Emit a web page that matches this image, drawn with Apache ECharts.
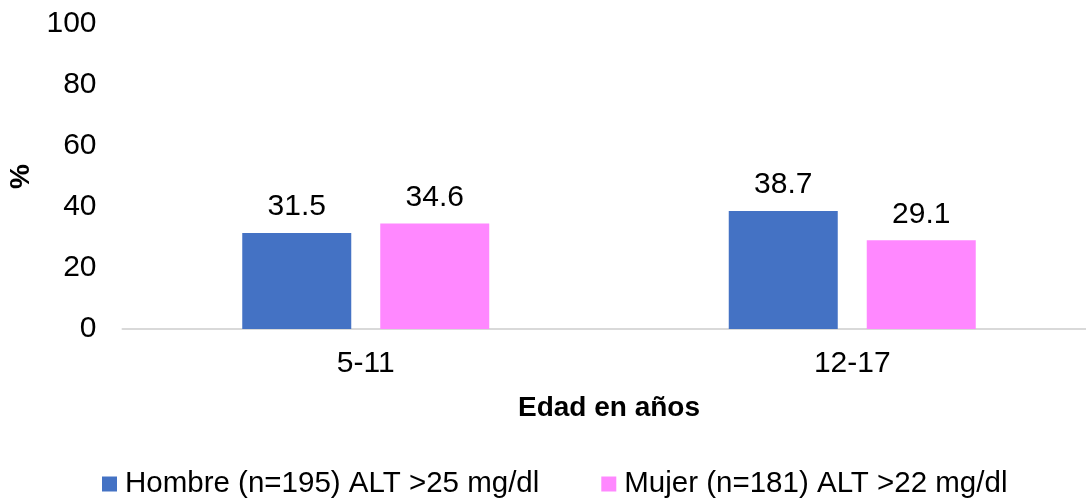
<!DOCTYPE html>
<html>
<head>
<meta charset="utf-8">
<script src="https://cdn.jsdelivr.net/npm/echarts@6/dist/echarts.min.js"></script>
<style>
  html, body { margin: 0; padding: 0; background: #ffffff; }
  #chart { width: 1086px; height: 498px; }
</style>
</head>
<body>
<div id="chart"></div>
<script>
const categories = ['5-11', '12-17'];
const hombreValues = [31.5, 38.7];
const mujerValues = [34.6, 29.1];
const seriesNames = ['Hombre (n=195) ALT >25 mg/dl', 'Mujer (n=181) ALT >22 mg/dl'];

const chart = echarts.init(document.getElementById('chart'));
const font = 'Liberation Sans, Arial, sans-serif';

const option = {
    animation: false,
    textStyle: { fontFamily: font },
    // el área del gráfico sale un poco por la derecha, como en el original
    grid: { left: 122.5, top: 24, width: 973, height: 305, outerBoundsMode: 'none' },
    legend: {
        top: 464,
        left: 97,
        itemWidth: 15,
        itemHeight: 15,
        itemGap: 62,
        icon: 'rect',
        textStyle: { fontSize: 29.5, color: '#000', fontFamily: font, padding: [0, 0, 0, 3] },
        data: seriesNames
    },
    xAxis: {
        type: 'category',
        data: categories,
        name: 'Edad en años',
        nameLocation: 'middle',
        nameGap: 65,
        nameTextStyle: { fontSize: 28, fontWeight: 'bold', color: '#000' },
        axisLine: { lineStyle: { color: '#d9d9d9', width: 2 } },
        axisTick: { show: false },
        axisLabel: { fontSize: 30, color: '#000', margin: 20 }
    },
    yAxis: {
        type: 'value',
        min: 0,
        max: 100,
        interval: 20,
        name: '%',
        nameLocation: 'middle',
        nameGap: 82,
        nameRotate: 90,
        nameTextStyle: { fontSize: 28, fontWeight: 'bold', color: '#000' },
        splitLine: { show: false },
        axisLine: { show: false },
        axisTick: { show: false },
        axisLabel: { fontSize: 30, color: '#000', margin: 26 }
    },
    series: [
        {
            name: seriesNames[0],
            type: 'bar',
            data: hombreValues,
            barWidth: 109,
            barGap: '26.6%',
            itemStyle: { color: '#4472C4' },
            label: { show: true, position: 'top', distance: 11, fontSize: 30, color: '#000' }
        },
        {
            name: seriesNames[1],
            type: 'bar',
            data: mujerValues,
            barWidth: 109,
            barGap: '26.6%',
            itemStyle: { color: '#FF88FF' },
            label: { show: true, position: 'top', distance: 11, fontSize: 30, color: '#000' }
        }
    ]
};

chart.setOption(option);
</script>
</body>
</html>
